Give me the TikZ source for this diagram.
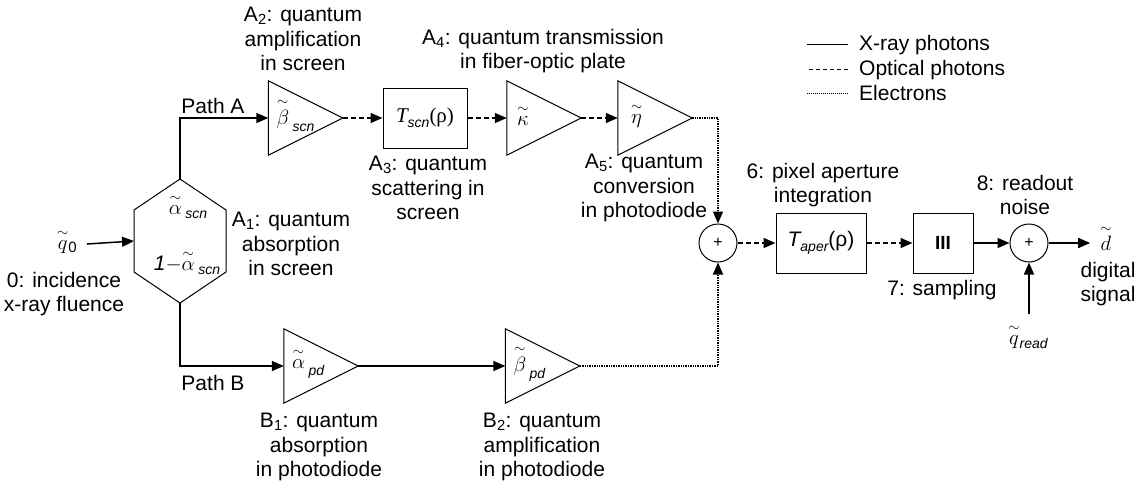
\documentclass[tikz,border=0pt]{standalone}
\usepackage{amsmath}
\usepackage{fontspec}
\setmainfont{Liberation Sans}
\newfontfamily\tms{Liberation Serif}
\usetikzlibrary{arrows.meta}
\newcommand\subf{\fontsize{14}{14}\selectfont\itshape}
\newcommand\tld[1]{\overset{\sim}{#1}}
\begin{document}
\begin{tikzpicture}[x=1pt,y=-1pt,font=\fontsize{21}{24.5}\selectfont,
  xray/.style={line width=1.5pt,-{Triangle[length=12pt,width=10pt]}},
  optic/.style={xray,dash pattern=on 5pt off 3pt},
  elec/.style={xray,dash pattern=on 1.4pt off 1pt},
  shp/.style={line width=1pt},
  amp/.style={minimum width=74pt,minimum height=74pt,inner sep=0pt},
  blk/.style={draw,line width=1pt,inner sep=0pt},
  sumc/.style={draw,circle,line width=1pt,minimum size=38pt,inner sep=0pt},
  lbl/.style={align=center,inner sep=0pt},
  sym/.style={inner sep=0pt}]
\useasboundingbox (0,0) rectangle (1140,487);

% hexagon (A1)
\coordinate (hexT) at (180,179);
\coordinate (hexB) at (180,303);
\coordinate (hexL) at (134,241);
\draw[shp] (hexT) -- (226,210) -- (226,272) -- (hexB) -- (134,272) -- (134,210) -- cycle;
\node[sym] (ha) at (188,206) {$\tld{\alpha}$\,\raisebox{-4pt}{\subf scn}};
\node[sym] (hb) at (187,262) {{\itshape 1}$-\tld{\alpha}$\,\raisebox{-4pt}{\subf scn}};

% amplifier triangles
\node[amp] (A2) at (305.5,118) {};
\node[amp] (K) at (544,118) {};
\node[amp] (E) at (655,118) {};
\node[amp] (B1) at (321,366) {};
\node[amp] (B2) at (542.5,366) {};
\foreach \n in {A2,K,E,B1,B2}
  \draw[shp] (\n.north west) -- (\n.east) -- (\n.south west) -- cycle;
\node[sym,anchor=west] (A2t) at ([xshift=8pt,yshift=3pt]A2.west) {$\tld{\beta}$\,\raisebox{-7pt}{\subf scn}};
\node[sym,anchor=west] (Kt) at ([xshift=10pt,yshift=3pt]K.west) {$\tld{\kappa}$};
\node[sym,anchor=west] (Et) at ([xshift=13pt,yshift=3pt]E.west) {$\tld{\eta}$};
\node[sym,anchor=west] (B1t) at ([xshift=8pt,yshift=3pt]B1.west) {$\tld{\alpha}$\,\raisebox{-7pt}{\subf pd}};
\node[sym,anchor=west] (B2t) at ([xshift=8pt,yshift=3pt]B2.west) {$\tld{\beta}$\,\raisebox{-7pt}{\subf pd}};

% boxes and sums
\node[blk,minimum width=84pt,minimum height=60pt] (T1) at (425,118)
  {{\tms\itshape T}\raisebox{-5pt}{\subf scn}{\tms(ρ)}};
\node[blk,minimum width=90pt,minimum height=60pt] (T2) at (821,243)
  {{\itshape T}\raisebox{-5pt}{\subf aper}(ρ)};
\node[blk,minimum width=60pt,minimum height=60pt] (S) at (943,243)
  {\fontsize{19}{19}\selectfont\bfseries III};
\node[sumc] (P1) at (718,243) {\fontsize{16}{16}\selectfont +};
\node[sumc] (P2) at (1029,243) {\fontsize{16}{16}\selectfont +};

% inputs / outputs
\node[sym] (q0) at (67,241) {$\tld{q}$\raisebox{-3pt}{\fontsize{15}{15}\selectfont 0}};
\node[sym] (dd) at (1106,238) {$\tld{d}$};
\node[sym] (qr) at (1028,336) {$\tld{q}$\raisebox{-4pt}{\subf read}};

% connectors
\draw[xray] ([xshift=10pt,yshift=-3pt]q0.east) -- (hexL);
\draw[xray] (hexT) |- (A2.west);
\draw[optic] (A2.east) -- (T1.west);
\draw[optic] (T1.east) -- (K.west);
\draw[optic] (K.east) -- (E.west);
\draw[elec] (E.east) -| (P1.north);
\draw[xray] (hexB) |- (B1.west);
\draw[xray] (B1.east) -- (B2.west);
\draw[elec] (B2.east) -| (P1.south);
\draw[optic] (P1.east) -- (T2.west);
\draw[optic] (T2.east) -- (S.west);
\draw[xray] (S.east) -- (P2.west);
\draw[xray] (P2.east) -- ([xshift=-10pt,yshift=-5pt]dd.west);
\draw[xray] ([yshift=10pt]qr.north -| P2.south) -- (P2.south);

% labels
\node[lbl] (l0) at (64,294) {0: incidence\\x-ray fluence};
\node[lbl] (lA1) at (291,244) {A\textsubscript{1}: quantum\\absorption\\in screen};
\node[lbl] (lA2) at (303,39) {A\textsubscript{2}: quantum\\amplification\\in screen};
\node[lbl] (lA3) at (428,188) {A\textsubscript{3}: quantum\\scattering in\\screen};
\node[lbl] (lA4) at (543,51) {A\textsubscript{4}: quantum transmission\\in fiber-optic plate};
\node[lbl] (lA5) at (644,188) {A\textsubscript{5}: quantum\\conversion\\in photodiode};
\node[lbl] (lB1) at (319,447) {B\textsubscript{1}: quantum\\absorption\\in photodiode};
\node[lbl] (lB2) at (542,447) {B\textsubscript{2}: quantum\\amplification\\in photodiode};
\node[lbl] (pA) at (213,106) {Path A};
\node[lbl] (pB) at (213,383) {Path B};
\node[lbl] (l6) at (823,185) {6: pixel aperture\\integration};
\node[lbl] (l7) at (942,290) {7: sampling};
\node[lbl] (l8) at (1025,195) {8: readout\\noise};
\node[lbl] (ld) at (1108,284) {digital\\signal};

% legend
\node[lbl,anchor=west] (lg1) at (859,45) {X-ray photons};
\node[lbl,anchor=west] (lg2) at (859,70) {Optical photons};
\node[lbl,anchor=west] (lg3) at (859,93) {Electrons};
\draw[line width=1pt] ([xshift=-11pt]lg1.west) -- ++(-41,0);
\draw[line width=1pt,dash pattern=on 4pt off 3pt] ([xshift=-11pt]lg2.west) -- ++(-41,0);
\draw[line width=0.8pt,dash pattern=on 1pt off 1pt] ([xshift=-11pt]lg3.west) -- ++(-41,0);
\end{tikzpicture}
\end{document}
